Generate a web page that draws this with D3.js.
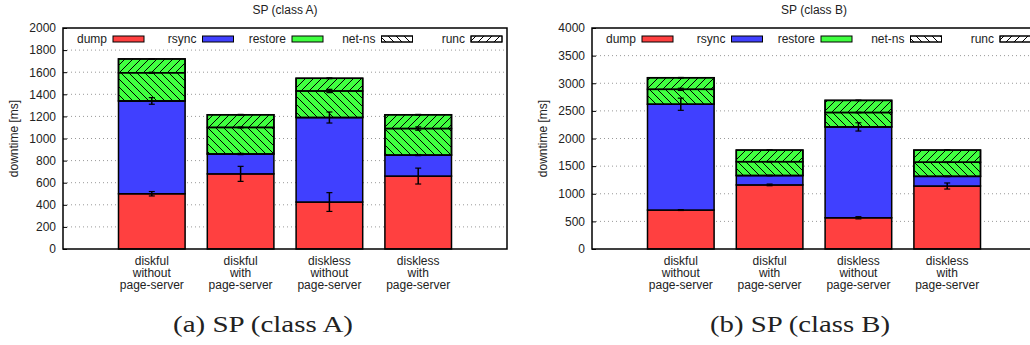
<!DOCTYPE html>
<html>
<head>
<meta charset="utf-8">
<script src="https://cdn.jsdelivr.net/npm/d3@7"></script>
<style>
  html, body { margin: 0; padding: 0; background: #fff; overflow: hidden; }
  svg { display: block; }
  text { font-family: "Liberation Sans", Arial, sans-serif; fill: #222; }
</style>
</head>
<body>
<svg id="fig" width="1030" height="345"></svg>
<script>
// ---- data ----------------------------------------------------------------
const categories = [
  ['diskful', 'without', 'page-server'],
  ['diskful', 'with', 'page-server'],
  ['diskless', 'without', 'page-server'],
  ['diskless', 'with', 'page-server']
];
const legendNames = ['dump', 'rsync', 'restore', 'net-ns', 'runc'];

// class A (segment heights, ms)
const dumpA    = [500, 680, 425, 660];
const rsyncA   = [840, 180, 765, 190];
const restoreA = [380, 355, 355, 365];
const netnsA   = [255, 240, 240, 240];
const runcA    = [125, 115, 115, 125];
const dumpErrA  = [20, 68, 85, 72];
const rsyncErrA = [30, 6, 50, 5];
const netnsErrA = [5, 4, 15, 15];
const runcErrA  = [3, 3, 4, 3];
const yTicksA = [0, 200, 400, 600, 800, 1000, 1200, 1400, 1600, 1800, 2000];

// class B
const dumpB    = [705, 1160, 565, 1140];
const rsyncB   = [1915, 170, 1645, 175];
const restoreB = [480, 460, 480, 475];
const netnsB   = [270, 250, 260, 255];
const runcB    = [210, 210, 220, 220];
const dumpErrB  = [8, 15, 20, 55];
const rsyncErrB = [110, 5, 75, 5];
const netnsErrB = [20, 5, 5, 5];
const runcErrB  = [5, 5, 5, 5];
const yTicksB = [0, 500, 1000, 1500, 2000, 2500, 3000, 3500, 4000];

const colors = { dump: '#ff4040', rsync: '#4040ff', restore: '#40ff40' };

const svg = d3.select('#fig');

// hatch patterns
const defs = svg.append('defs');
function hatch(id, d) {
  const p = defs.append('pattern')
    .attr('id', id).attr('patternUnits', 'userSpaceOnUse')
    .attr('width', 8).attr('height', 8);
  p.append('path').attr('d', d)
    .attr('stroke', '#000').attr('stroke-width', 1).attr('fill', 'none');
}
hatch('hatch-back', 'M0,0L8,8M-2,6L2,10M6,-2L10,2');   // net-ns  \\\
hatch('hatch-fwd',  'M0,8L8,0M-2,2L2,-2M6,10L10,6');   // runc   ///

function drawChart(g0, title, sub, yTicks, ser, err) {
  const left = g0.left, top = 28, bottom = 249, plotW = 444;
  const g = svg.append('g');

  const x = d3.scaleLinear().domain([-1, 4]).range([left, left + plotW]);
  const y = d3.scaleLinear().domain([0, d3.max(yTicks)]).range([bottom, top]);
  const bw = (x(1) - x(0)) * 0.75;

  // grid
  g.append('g').selectAll('line').data(yTicks.slice(1, -1)).join('line')
    .attr('x1', left).attr('x2', left + plotW)
    .attr('y1', d => y(d)).attr('y2', d => y(d))
    .attr('stroke', '#999').attr('stroke-width', 1)
    .attr('stroke-dasharray', '1,3');

  // y axis ticks + labels
  const ay = d3.axisLeft(y).tickValues(yTicks).tickFormat(d3.format('d'))
    .tickSizeInner(-4).tickSizeOuter(0).tickPadding(7);
  const axg = g.append('g').attr('transform', `translate(${left},0)`).call(ay);
  axg.select('.domain').remove();
  axg.selectAll('line').attr('stroke', '#000');
  axg.selectAll('text').attr('font-size', 12).attr('fill', '#222')
    .attr('font-family', '"Liberation Sans", Arial, sans-serif');

  // bars
  const n = categories.length;
  for (let i = 0; i < n; ++i) {
    const cx = x(i), x0 = cx - bw / 2;
    const b0 = 0, b1 = b0 + ser.dump[i], b2 = b1 + ser.rsync[i];
    const b3 = b2 + ser.restore[i];
    const n1 = b2 + ser.netns[i], n2 = n1 + ser.runc[i];
    const segs = [
      [b0, b1, colors.dump], [b1, b2, colors.rsync], [b2, b3, colors.restore],
      [b2, n1, 'url(#hatch-back)'], [n1, n2, 'url(#hatch-fwd)']
    ];
    for (const [a, b, f] of segs) {
      g.append('rect').attr('x', x0).attr('width', bw)
        .attr('y', y(b)).attr('height', y(a) - y(b))
        .attr('fill', f).attr('stroke', '#000').attr('stroke-width', 1.5);
    }
    // error bars
    const eb = [[b1, err.dump[i]], [b2, err.rsync[i]], [n1, err.netns[i]], [n2, err.runc[i]]];
    for (const [v, e] of eb) {
      const ye1 = y(v + e), ye2 = y(v - e);
      g.append('line').attr('x1', cx).attr('x2', cx).attr('y1', ye1).attr('y2', ye2)
        .attr('stroke', '#000').attr('stroke-width', 1.5);
      for (const yy of [ye1, ye2])
        g.append('line').attr('x1', cx - 3).attr('x2', cx + 3).attr('y1', yy).attr('y2', yy)
          .attr('stroke', '#000').attr('stroke-width', 1.2);
    }
    // category labels
    const t = g.append('text').attr('text-anchor', 'middle').attr('font-size', 12);
    categories[i].forEach((s, k) =>
      t.append('tspan').attr('x', cx).attr('y', 265 + k * 12).text(s));
  }

  // frame
  g.append('rect').attr('x', left).attr('y', top).attr('width', plotW)
    .attr('height', bottom - top).attr('fill', 'none')
    .attr('stroke', '#000').attr('stroke-width', 1.5);

  // legend
  const fills = [colors.dump, colors.rsync, colors.restore, 'url(#hatch-back)', 'url(#hatch-fwd)'];
  legendNames.forEach((nm, k) => {
    const te = left + 44 + k * 89.5;
    g.append('text').attr('x', te).attr('y', 43).attr('text-anchor', 'end')
      .attr('font-size', 12).text(nm);
    g.append('rect').attr('x', te + 6).attr('y', 36).attr('width', 31).attr('height', 6)
      .attr('fill', k < 3 ? fills[k] : '#fff').attr('stroke', '#000').attr('stroke-width', 1);
    if (k >= 3)
      g.append('rect').attr('x', te + 6).attr('y', 36).attr('width', 31).attr('height', 6)
        .attr('fill', fills[k]).attr('stroke', '#000').attr('stroke-width', 1);
  });

  // titles
  g.append('text').attr('x', left + plotW / 2).attr('y', 14).attr('text-anchor', 'middle')
    .attr('font-size', 12).text(title);
  g.append('text').attr('transform', `translate(${left - 45},${(top + bottom) / 2}) rotate(-90)`)
    .attr('text-anchor', 'middle').attr('font-size', 12).text('downtime [ms]');
  g.append('text').attr('x', g0.sub).attr('y', 332).attr('text-anchor', 'middle')
    .attr('font-size', 24).style('font-family', '"Liberation Serif", serif')
    .attr('textLength', 180).attr('lengthAdjust', 'spacingAndGlyphs')
    .attr('fill', '#000').text(sub);
}

drawChart({ left: 63, sub: 263 }, 'SP (class A)', '(a) SP (class A)', yTicksA,
  { dump: dumpA, rsync: rsyncA, restore: restoreA, netns: netnsA, runc: runcA },
  { dump: dumpErrA, rsync: rsyncErrA, netns: netnsErrA, runc: runcErrA });
drawChart({ left: 592, sub: 800 }, 'SP (class B)', '(b) SP (class B)', yTicksB,
  { dump: dumpB, rsync: rsyncB, restore: restoreB, netns: netnsB, runc: runcB },
  { dump: dumpErrB, rsync: rsyncErrB, netns: netnsErrB, runc: runcErrB });
</script>
</body>
</html>
